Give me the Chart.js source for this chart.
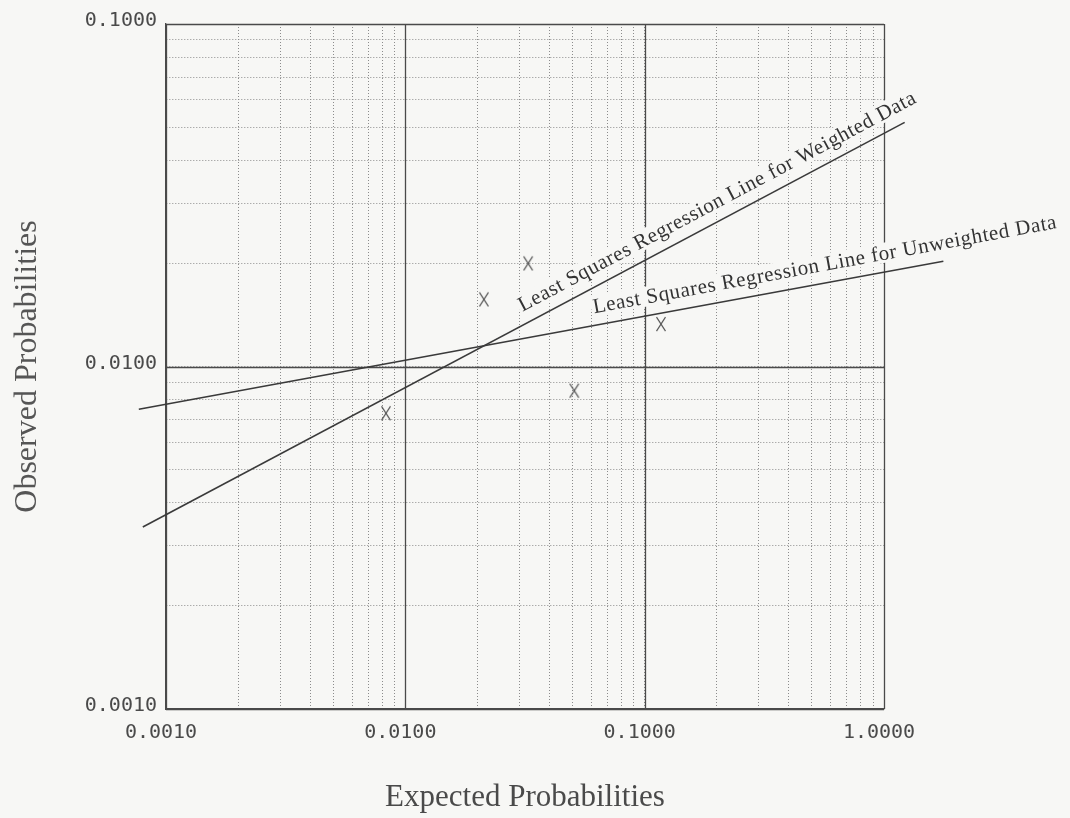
<!DOCTYPE html>
<html>
<head>
<meta charset="utf-8">
<script src="https://cdn.jsdelivr.net/npm/chart.js@4.4.1/dist/chart.umd.min.js"></script>
<style>
  html, body { margin: 0; padding: 0; background: #f7f7f5; }
  #wrap { width: 1070px; height: 818px; position: relative; }
</style>
</head>
<body>
<div id="wrap"><canvas id="probChart"></canvas></div>
<script>
// observed vs expected points (the X marks)
const obsX = [0.0083, 0.0213, 0.0326, 0.0508, 0.117];
const obsY = [0.0073, 0.0157, 0.0200, 0.0085, 0.0133];

// regression lines, end points
const weightedX = [0.0008, 1.22];
const weightedY = [0.0034, 0.0516];
const unweightedX = [0.00077, 1.77];
const unweightedY = [0.0075, 0.0203];

const lineLabels = ["Least Squares Regression Line for Weighted Data", "Least Squares Regression Line for Unweighted Data"];
const labelStartX = [0.0326, 0.0628];

// axis ticks
const xTickValues = [0.001, 0.01, 0.1, 1];
const xTickLabels = ["0.0010", "0.0100", "0.1000", "1.0000"];
const yTickValues = [0.001, 0.01, 0.1];
const yTickLabels = ["0.0010", "0.0100", "0.1000"];

const bgColor = '#f7f7f5';

function toPoints(xs, ys) {
    return xs.map(function (x, i) { return {x: x, y: ys[i]}; });
}

function tickLabel(values, labels, v) {
    for (let i = 0; i < values.length; i++) {
        if (Math.abs(v - values[i]) / values[i] < 1e-6) return labels[i];
    }
    return '';
}

// keep only 1..9 x 10^n ticks (drop the 1.5 ones chart.js adds)
function keepWholeTicks(scale) {
    scale.ticks = scale.ticks.filter(function (t) {
        const m = t.value / Math.pow(10, Math.floor(Math.log10(t.value) + 1e-9));
        return Math.abs(m - Math.round(m)) < 1e-6;
    });
}

// tall hand-plotted looking X used as point style
const xMark = document.createElement('canvas');
xMark.width = 12;
xMark.height = 16;
(function () {
    const c = xMark.getContext('2d');
    c.strokeStyle = '#505050';
    c.lineWidth = 1.3;
    c.beginPath();
    c.moveTo(1.5, 1); c.lineTo(10.5, 15);
    c.moveTo(10.5, 1); c.lineTo(1.5, 15);
    c.stroke();
})();

// solid lines on the decades
const decadeLines = {
    id: 'decadeLines',
    beforeDatasetsDraw(chart) {
        const ctx = chart.ctx;
        const a = chart.chartArea;
        const xs = chart.scales.x, ys = chart.scales.y;
        ctx.save();
        ctx.strokeStyle = '#4a4a4a';
        ctx.lineWidth = 1.3;
        ctx.beginPath();
        xTickValues.forEach(function (v) {
            const px = Math.round(xs.getPixelForValue(v)) + 0.5;
            ctx.moveTo(px, a.top);
            ctx.lineTo(px, a.bottom);
        });
        yTickValues.forEach(function (v) {
            const py = Math.round(ys.getPixelForValue(v)) + 0.5;
            ctx.moveTo(a.left, py);
            ctx.lineTo(a.right, py);
        });
        ctx.stroke();
        ctx.restore();
    }
};

// where and at what angle each label sits on its line
function labelPlace(chart, i) {
    const pts = chart.getDatasetMeta(i).data;
    const p0 = pts[0], p1 = pts[pts.length - 1];
    const px = chart.scales.x.getPixelForValue(labelStartX[i]);
    return {
        x: px,
        y: p0.y + (px - p0.x) * (p1.y - p0.y) / (p1.x - p0.x),
        ang: Math.atan2(p1.y - p0.y, p1.x - p0.x)
    };
}

function setLabelFont(ctx) {
    ctx.font = '21px "Liberation Serif"';
    ctx.letterSpacing = '0.6px';
    ctx.textBaseline = 'alphabetic';
}

// text written along each regression line, the grid is blanked under it
const lineText = {
    id: 'lineText',
    beforeDatasetsDraw(chart) {
        const ctx = chart.ctx;
        ctx.save();
        setLabelFont(ctx);
        ctx.fillStyle = bgColor;
        [0, 1].forEach(function (i) {
            const p = labelPlace(chart, i);
            const w = ctx.measureText(lineLabels[i]).width;
            ctx.save();
            ctx.translate(p.x, p.y);
            ctx.rotate(p.ang);
            ctx.fillRect(-2, -29, w + 4, 20);
            ctx.restore();
        });
        ctx.restore();
    },
    afterDatasetsDraw(chart) {
        const ctx = chart.ctx;
        ctx.save();
        setLabelFont(ctx);
        ctx.fillStyle = '#333333';
        [0, 1].forEach(function (i) {
            const p = labelPlace(chart, i);
            ctx.save();
            ctx.translate(p.x, p.y);
            ctx.rotate(p.ang);
            ctx.fillText(lineLabels[i], 0, -12);
            ctx.restore();
        });
        ctx.restore();
    }
};

const gridOpts = { color: '#8c8c8c', lineWidth: 1, drawTicks: false };
const borderOpts = { display: true, color: '#4a4a4a', width: 1.3, dash: [1, 2] };
const tickFont = { family: 'DejaVu Sans Mono', size: 20 };
const titleFont = { family: 'Liberation Serif', size: 31 };

new Chart('probChart', {
    type: 'scatter',
    data: {
        datasets: [{
            data: toPoints(weightedX, weightedY),
            showLine: true,
            borderColor: '#3a3a3a',
            borderWidth: 1.6,
            pointRadius: 0,
            clip: false
        }, {
            data: toPoints(unweightedX, unweightedY),
            showLine: true,
            borderColor: '#3a3a3a',
            borderWidth: 1.6,
            pointRadius: 0,
            clip: false
        }, {
            data: toPoints(obsX, obsY),
            pointStyle: xMark,
            pointRadius: 7
        }]
    },
    options: {
        responsive: true,
        maintainAspectRatio: false,
        animation: false,
        layout: { padding: { left: 0, right: 186, top: 24, bottom: 0 } },
        plugins: { legend: { display: false }, tooltip: { enabled: false } },
        scales: {
            x: {
                type: 'logarithmic', min: 0.001, max: 1,
                afterBuildTicks: keepWholeTicks,
                afterFit: function (s) { s.height = 109; },
                grid: gridOpts,
                border: borderOpts,
                ticks: {
                    autoSkip: false, maxRotation: 0, padding: 12, labelOffset: -5,
                    font: tickFont, color: '#4a4a4a',
                    callback: function (v) { return tickLabel(xTickValues, xTickLabels, v); }
                },
                title: { display: true, text: 'Expected Probabilities', font: titleFont, color: '#4a4a4a', padding: { top: 0, bottom: 2 } }
            },
            y: {
                type: 'logarithmic', min: 0.001, max: 0.1,
                afterBuildTicks: keepWholeTicks,
                afterFit: function (s) { s.width = 166; },
                grid: gridOpts,
                border: borderOpts,
                ticks: {
                    autoSkip: false, padding: 9, labelOffset: -3,
                    font: tickFont, color: '#4a4a4a',
                    callback: function (v) { return tickLabel(yTickValues, yTickLabels, v); }
                },
                title: { display: true, text: 'Observed Probabilities', font: { family: 'Liberation Serif', size: 32 }, color: '#555555', padding: { top: 8, bottom: 0 } }
            }
        }
    },
    plugins: [decadeLines, lineText]
});
</script>
</body>
</html>
